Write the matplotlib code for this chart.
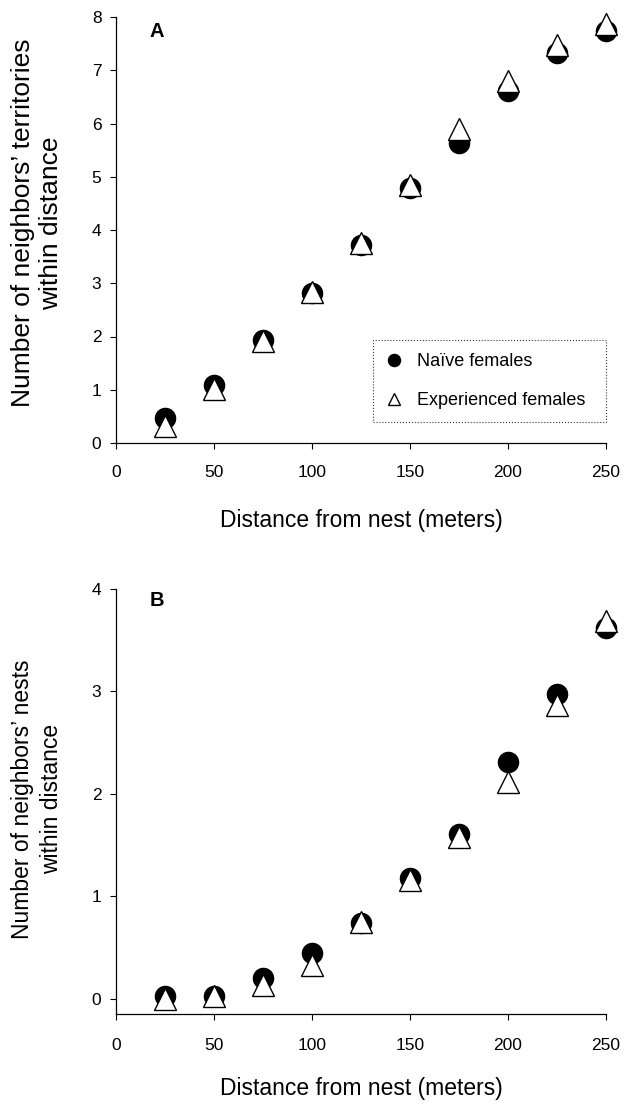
import numpy as np
import matplotlib.pyplot as plt

plt.rcParams['font.family'] = ['Liberation Sans', 'DejaVu Sans']

# distance from nest (meters)
dist = [25, 50, 75, 100, 125, 150, 175, 200, 225, 250]

# panel A: neighbours' territories within distance
terr_naive = [0.47, 1.08, 1.93, 2.81, 3.71, 4.78, 5.63, 6.61, 7.33, 7.74]
terr_exp = [0.32, 1.02, 1.91, 2.83, 3.76, 4.84, 5.90, 6.80, 7.47, 7.86]

# panel B: neighbours' nests within distance
nest_naive = [0.03, 0.03, 0.20, 0.45, 0.74, 1.18, 1.61, 2.31, 2.97, 3.62]
nest_exp = [0.00, 0.03, 0.13, 0.33, 0.75, 1.16, 1.58, 2.12, 2.87, 3.69]

W, H = 626, 1105
fig = plt.figure(figsize=(W / 100, H / 100), dpi=100)

axA = fig.add_axes([116 / W, 1 - 443 / H, 490 / W, 426 / H])
axB = fig.add_axes([116 / W, 1 - 1014 / H, 490 / W, 425 / H])


def style(ax, ylim, yticks, xpad):
    ax.set_xlim(0, 250)
    ax.set_ylim(*ylim)
    ax.set_xticks([0, 50, 100, 150, 200, 250])
    ax.set_yticks(yticks)
    for s in ['top', 'right']:
        ax.spines[s].set_visible(False)
    for s in ['left', 'bottom']:
        ax.spines[s].set_linewidth(0.9)
    ax.tick_params(direction='out', length=4.5, width=0.8, labelsize=12.5)
    ax.tick_params(axis='x', pad=xpad)
    ax.tick_params(axis='y', pad=6)


def points(ax, naive, exp):
    ax.plot(dist, naive, 'o', color='black', markersize=14.5, clip_on=False,
            zorder=3, label='Naïve females')
    ax.plot(dist, exp, '^', markerfacecolor='white', markeredgecolor='black',
            markeredgewidth=1.0, markersize=15.5, clip_on=False, zorder=4,
            label='Experienced females')


points(axA, terr_naive, terr_exp)
style(axA, (0, 8), range(0, 9), 11)
points(axB, nest_naive, nest_exp)
style(axB, (-0.15, 4), range(0, 5), 12.5)

axA.text(0.083, 0.967, 'A', transform=axA.transAxes, fontsize=14.5,
         fontweight='bold', ha='center', va='center')
axB.text(0.083, 0.972, 'B', transform=axB.transAxes, fontsize=14.5,
         fontweight='bold', ha='center', va='center')

leg = axA.legend(loc='lower left', bbox_to_anchor=(0.524, 0.049, 0.476, 0.193),
                 mode='expand', borderaxespad=0, fancybox=False, markerscale=0.6,
                 fontsize=13, labelspacing=1.25, borderpad=0.7, handlelength=1.0,
                 handletextpad=0.75)
frame = leg.get_frame()
frame.set_edgecolor('black')
frame.set_linewidth(0.8)
frame.set_linestyle(':')

fig.text(37 / W, 1 - 223 / H,
         'Number of neighbors\u2019 territories\nwithin distance',
         rotation=90, ha='center', va='center', fontsize=19, linespacing=1.2,
         multialignment='center')
fig.text(37 / W, 1 - 799 / H,
         'Number of neighbors\u2019 nests\nwithin distance',
         rotation=90, ha='center', va='center', fontsize=16.5, linespacing=1.38,
         multialignment='center')

fig.text(361 / W, 1 - 521 / H, 'Distance from nest (meters)', ha='center',
         va='center', fontsize=16.5)
fig.text(361 / W, 1 - 1088 / H, 'Distance from nest (meters)', ha='center',
         va='center', fontsize=16.5)

fig.savefig('out.png', dpi=100)
